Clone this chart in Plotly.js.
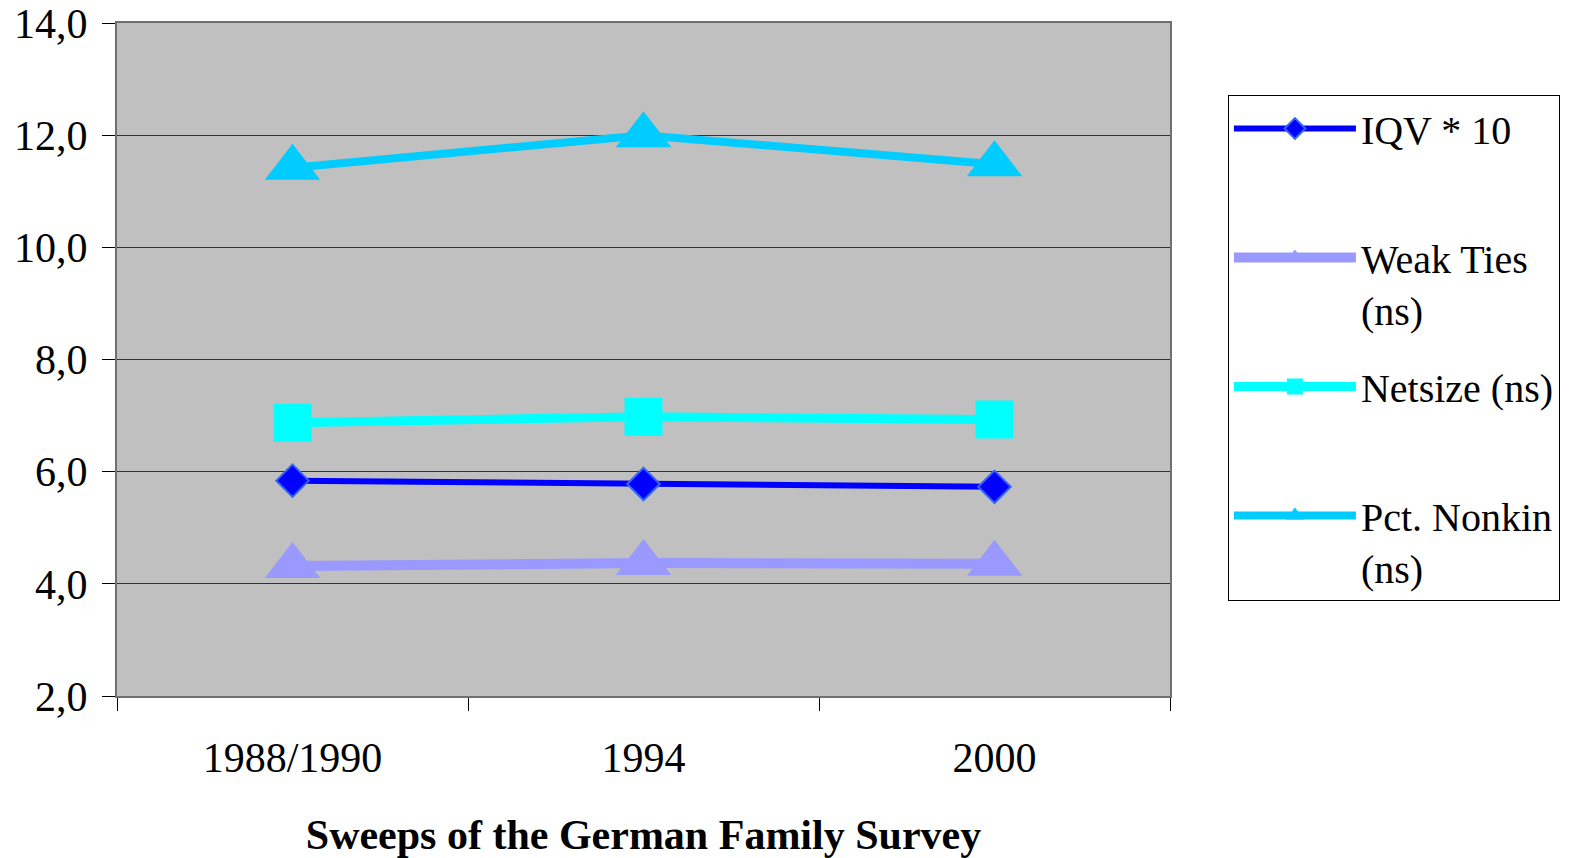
<!DOCTYPE html>
<html>
<head>
<meta charset="utf-8">
<script src="https://cdn.plot.ly/plotly-3.0.1.min.js"></script>
<style>html,body{margin:0;padding:0;background:#fff;}#chart{width:1591px;height:858px;}</style>
</head>
<body>
<div id="chart"></div>
<script>
// Data
const sweeps = ["1988/1990", "1994", "2000"];
const iqvTimes10 = [5.84, 5.78, 5.73];
const weakTies = [4.32, 4.37, 4.36];
const netsize = [6.87, 6.98, 6.93];
const pctNonkin = [11.42, 12.0, 11.48];
const seriesNames = ["IQV * 10<br> ", "Weak Ties<br>(ns)", "Netsize (ns)<br> ", "Pct. Nonkin<br>(ns)"];
const yTicks = [2, 4, 6, 8, 10, 12, 14];
const xTitle = "Sweeps of the German Family Survey";

const FONT = "Liberation Serif, Times New Roman, serif";

const traces = [
  {
    x: sweeps, y: iqvTimes10, name: seriesNames[0], legendgroup: "a",
    type: "scatter", mode: "lines+markers",
    line: {color: "#0000FF", width: 6},
    marker: {symbol: "diamond", size: 25, color: "#0000FF", line: {color: "#3366FF", width: 2}}
  },
  {
    x: sweeps, y: weakTies, name: seriesNames[1], legendgroup: "b",
    type: "scatter", mode: "lines+markers",
    line: {color: "#9999FF", width: 10},
    marker: {symbol: "triangle-up", size: 48, color: "#9999FF"}
  },
  {
    x: sweeps, y: netsize, name: seriesNames[2], legendgroup: "c",
    type: "scatter", mode: "lines+markers",
    line: {color: "#00FFFF", width: 9},
    marker: {symbol: "square", size: 38, color: "#00FFFF"}
  },
  {
    x: sweeps, y: pctNonkin, name: seriesNames[3], legendgroup: "d",
    type: "scatter", mode: "lines+markers",
    line: {color: "#00CCFF", width: 8},
    marker: {symbol: "triangle-up", size: 48, color: "#00CCFF"}
  }
];

const layout = {
  width: 1591, height: 858,
  margin: {l: 117, r: 421, t: 23, b: 162, pad: 0},
  paper_bgcolor: "#FFFFFF",
  plot_bgcolor: "#C0C0C0",
  separators: ",.",
  font: {family: FONT, color: "#000000", size: 42},
  showlegend: true,
  hovermode: false,
  xaxis: {
    type: "category",
    categoryorder: "array", categoryarray: sweeps,
    range: [-0.5, 2.5],
    tickson: "boundaries",
    ticks: "outside", ticklen: 13, tickwidth: 1, tickcolor: "#000000",
    showgrid: false, zeroline: false,
    showline: true, linecolor: "#707070", linewidth: 2, mirror: true,
    tickfont: {family: FONT, size: 42, color: "#000000"},
    ticklabelstandoff: 24,
    title: {text: xTitle, font: {family: FONT, size: 42, weight: "bold", color: "#000000"}, standoff: 41}
  },
  yaxis: {
    range: [2, 14],
    tickvals: yTicks,
    tickformat: ".1f",
    ticks: "outside", ticklen: 13, tickwidth: 1, tickcolor: "#000000",
    showgrid: true, gridcolor: "#333333", gridwidth: 1,
    zeroline: false,
    showline: true, linecolor: "#707070", linewidth: 2, mirror: true,
    tickfont: {family: FONT, size: 42, color: "#000000"},
    ticklabelstandoff: 6
  },
  legend: {
    x: 1.055, y: 0.893, xanchor: "left", yanchor: "top",
    bgcolor: "#FFFFFF", bordercolor: "#000000", borderwidth: 1,
    font: {family: FONT, size: 40, color: "#000000"},
    valign: "top",
    traceorder: "grouped",
    tracegroupgap: 22,
    itemwidth: 122
  }
};

Plotly.newPlot("chart", traces, layout, {displayModeBar: false, staticPlot: true});
</script>
</body>
</html>
